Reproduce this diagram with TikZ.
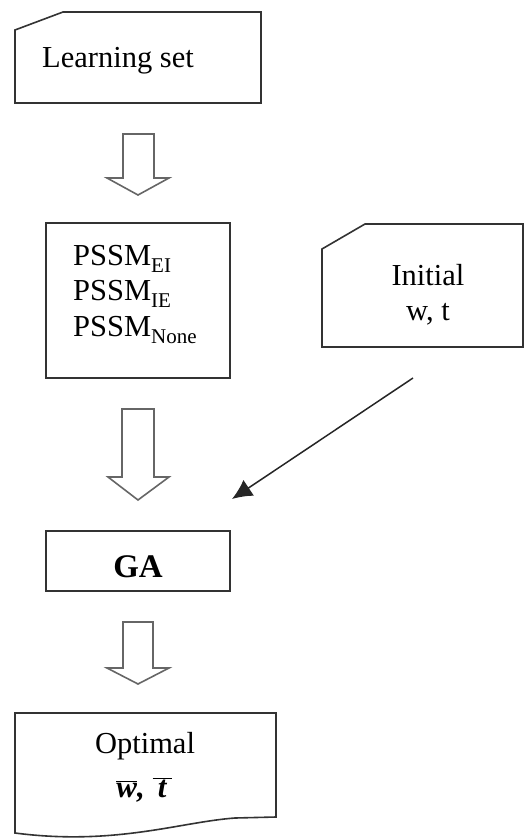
\documentclass[tikz,border=0pt]{standalone}
\usepackage{fontspec}
\setmainfont{Liberation Serif}
\usetikzlibrary{arrows.meta}
\begin{document}
\begin{tikzpicture}[x=1pt,y=-1pt,
  outline/.style={draw=black!80,line width=1.6pt,line join=miter},
  blockarrow/.style={draw=black!60,line width=1.6pt,fill=white,line join=miter},
  label/.style={inner sep=0pt,font=\fontsize{30.5}{36}\selectfont},
  pointer/.style={draw=black!85,line width=1.5pt,-{Latex[length=20pt,width=19pt]}}]
\useasboundingbox (0,0) rectangle (526,838);

% Learning set (card shape)
\draw[outline] (15,30) -- (63,12) -- (261,12) -- (261,103) -- (15,103) -- cycle;
\node[label,anchor=base west] (learn) at (42,67) {Learning set};

% PSSM box
\draw[outline] (46,223) rectangle (230,378);
\newcommand{\lowsub}[1]{\raisebox{-7pt}{\fontsize{21}{21}\selectfont #1}}
\node[label,anchor=base west] (pssmA) at (73,265) {PSSM\lowsub{EI}};
\node[label,anchor=base west] (pssmB) at (73,300) {PSSM\lowsub{IE}};
\node[label,anchor=base west] (pssmC) at (73,336) {PSSM\lowsub{None}};

% Initial w, t (card shape)
\draw[outline] (322,249) -- (365,224) -- (523,224) -- (523,347) -- (322,347) -- cycle;
\node[label,anchor=base] (init) at (428,285) {Initial};
\node[label,anchor=base] (wt) at (428,320) {w, t};

% GA box
\draw[outline] (46,531) rectangle (230,591);
\node[label,anchor=base,font=\fontsize{33}{38}\selectfont\bfseries] (ga) at (138,577) {GA};

% Optimal (document shape)
\draw[outline] (15,713) -- (276,713) -- (276,817) -- (235,818)
  .. controls (180,822) and (115,846) .. (15,833) -- cycle;
\node[label,anchor=base] (opt) at (145,753) {Optimal};
\node[label,anchor=base,font=\fontsize{31}{36}\selectfont\bfseries\itshape] (optwt) at (144,797)
  {$\overline{\mbox{w}}$, $\overline{\mbox{\,t\,}}$};

% block arrows
\draw[blockarrow] (123,134) -- (154,134) -- (154,178) -- (169,178) -- (138,195)
  -- (107,178) -- (123,178) -- cycle;
\draw[blockarrow] (122,409) -- (154,409) -- (154,477) -- (169,477) -- (138,500)
  -- (108,477) -- (122,477) -- cycle;
\draw[blockarrow] (123,622) -- (153,622) -- (153,668) -- (169,668) -- (138,684)
  -- (107,668) -- (123,668) -- cycle;

% pointer from the initial values towards GA
\coordinate (ptail) at (413,378);
\coordinate (phead) at (232,499);
\draw[pointer] (ptail) -- (phead);
\end{tikzpicture}
\end{document}
